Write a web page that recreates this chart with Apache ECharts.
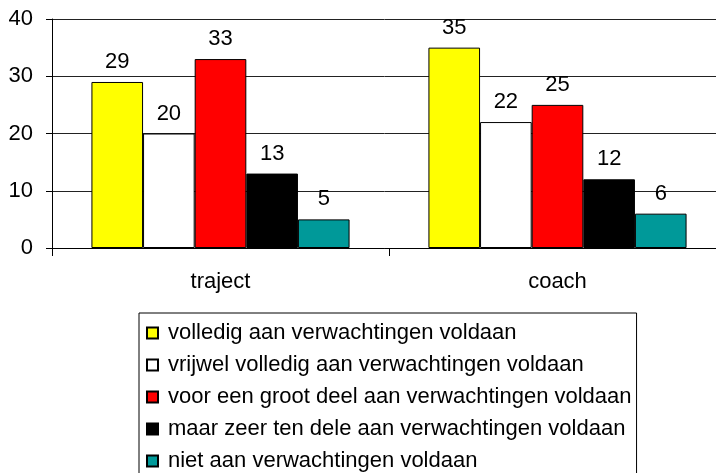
<!DOCTYPE html>
<html>
<head>
<meta charset="utf-8">
<script src="https://cdn.jsdelivr.net/npm/echarts@6/dist/echarts.min.js"></script>
<style>
	html, body { margin: 0; padding: 0; background: #fff; }
	#chart { width: 716px; height: 473px; }
</style>
</head>
<body>
<div id="chart"></div>
<script>
var categories = [ 'traject', 'coach' ];
var seriesNames = [
	'volledig aan verwachtingen voldaan',
	'vrijwel volledig aan verwachtingen voldaan',
	'voor een groot deel aan verwachtingen voldaan',
	'maar zeer ten dele aan verwachtingen voldaan',
	'niet aan verwachtingen voldaan'
];
var volledig = [ 29, 35 ];
var vrijwel = [ 20, 22 ];
var grootDeel = [ 33, 25 ];
var tenDele = [ 13, 12 ];
var niet = [ 5, 6 ];
var yTicks = [ 0, 10, 20, 30, 40 ];

var colors = [ '#ffff00', '#ffffff', '#ff0000', '#000000', '#009999' ];
var values = [ volledig, vrijwel, grootDeel, tenDele, niet ];
var font = 'Liberation Sans, Arial, sans-serif';

// één serie per antwoordcategorie
var series = seriesNames.map(function(name, i) {
	return {
		name : name,
		type : 'bar',
		data : values[i],
		barGap : '0%',
		barCategoryGap : '23.4%',
		itemStyle : {
			color : colors[i],
			borderColor : '#000',
			borderWidth : 1
		},
		label : {
			show : true,
			position : 'top',
			distance : 9,
			color : '#000',
			fontSize : 22,
			fontFamily : font
		}
	};
});

var myChart = echarts.init(document.getElementById('chart'));
myChart.setOption({
	animation : false,
	grid : {
		left : 52,
		right : -10,
		top : 19,
		bottom : 225,
		outerBoundsMode : 'none'
	},
	legend : {
		orient : 'vertical',
		left : 139,
		top : 313,
		height : 200,
		padding : [ 9, 5, 10, 7 ],
		itemWidth : 11,
		itemHeight : 11,
		itemGap : 10,
		borderColor : '#000',
		borderWidth : 1,
		icon : 'rect',
		textStyle : {
			color : '#000',
			fontSize : 22,
			lineHeight : 22,
			fontFamily : font,
			padding : [ 0, 0, 0, 5 ]
		},
		data : seriesNames
	},
	xAxis : {
		type : 'category',
		data : categories,
		axisLine : { lineStyle : { color : '#000' } },
		axisTick : { show : true, length : 8, lineStyle : { color : '#000' } },
		axisLabel : {
			margin : 23,
			color : '#000',
			fontSize : 22,
			fontFamily : font
		}
	},
	yAxis : {
		type : 'value',
		min : yTicks[0],
		max : yTicks[yTicks.length - 1],
		interval : 10,
		axisLine : { show : true, lineStyle : { color : '#000' } },
		axisTick : { show : true, length : 6, lineStyle : { color : '#000' } },
		splitLine : { lineStyle : { color : '#222' } },
		axisLabel : {
			margin : 19,
			color : '#000',
			fontSize : 22,
			fontFamily : font
		}
	},
	series : series
});
</script>
</body>
</html>
